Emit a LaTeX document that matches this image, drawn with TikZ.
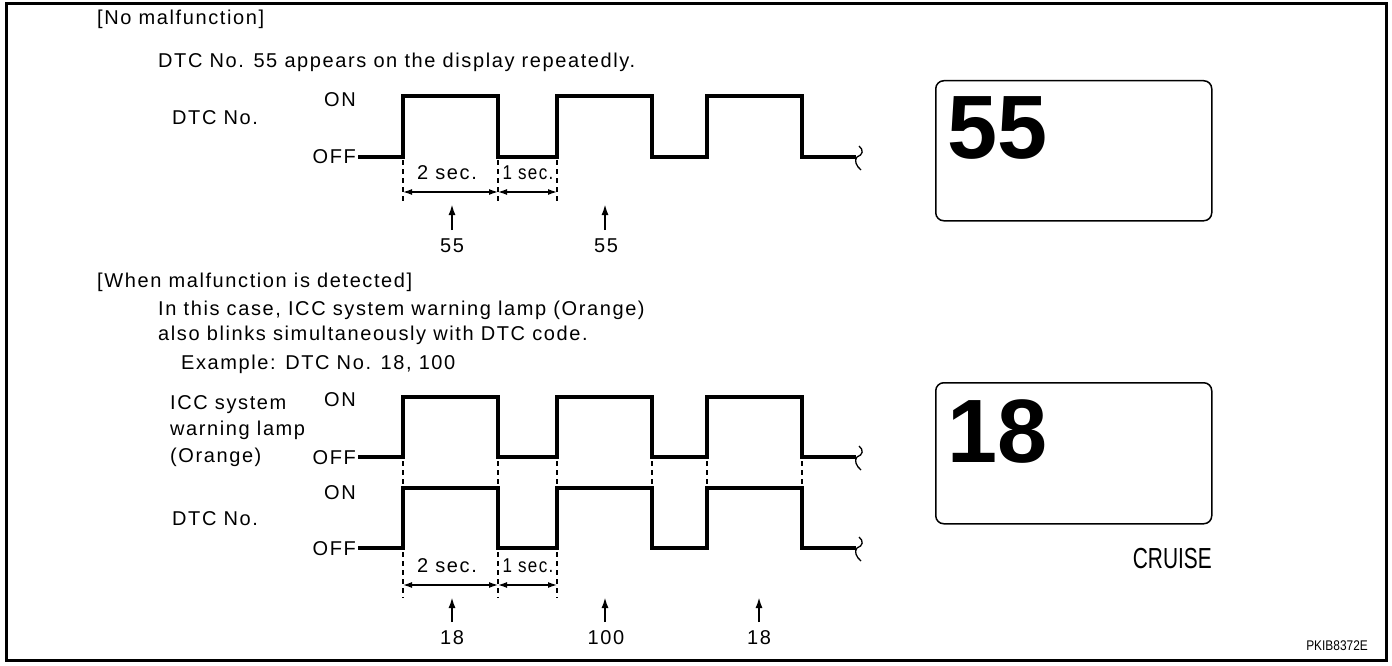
\documentclass[tikz,border=0pt]{standalone}
\usepackage{fontspec}
\setmainfont{Liberation Sans}
\newfontfamily\lblfont[LetterSpace=8]{Liberation Sans}
\usetikzlibrary{arrows.meta}
\begin{document}
\begin{tikzpicture}[x=1pt,y=-1pt,
  txt/.style={inner sep=0pt,anchor=base west,font=\lblfont\fontsize{20}{22}\selectfont},
  txtc/.style={inner sep=0pt,anchor=base,font=\lblfont\fontsize{20}{22}\selectfont},
  txte/.style={inner sep=0pt,anchor=base east,font=\lblfont\fontsize{20}{22}\selectfont},
  wave/.style={line width=3.5pt,line join=miter},
  guide/.style={line width=1.2pt,dash pattern=on 5pt off 4pt},
  dim/.style={line width=1.3pt,{Latex[length=9pt,width=6pt]}-{Latex[length=9pt,width=6pt]}},
  uparrow/.style={line width=2pt,-{Latex[length=11pt,width=7pt]}},
  squig/.style={line width=1.3pt},
  display/.style={draw,line width=1.5pt,rounded corners=8pt}]
\useasboundingbox (0,0) rectangle (1392,666);
\draw[line width=3pt] (6,4) rectangle (1386,660);

% ---------- section 1 ----------
\node[txt] (h1) at (97,25) {[No malfunction]};
\node[txt] (d1) at (158,68) {DTC No. 55 appears on the display repeatedly.};
\node[txt] (lab1) at (172,125) {DTC No.};
\node[txt] (on1) at (324,107) {ON};
\node[txte] (off1) at (356,164) {OFF};

\draw[wave] (358,157) -- (403,157) -- (403,96) -- (498,96) -- (498,157) -- (557,157) -- (557,96) -- (652,96) -- (652,157) -- (707,157) -- (707,96) -- (802,96) -- (802,157) -- (856,157);
\draw[squig] (859,146) .. controls (864,150) and (863,155) .. (857,157) .. controls (854,160) and (856,166) .. (861,170);

\foreach \x/\n in {403/a,498/b,557/c} {
  \coordinate (g1\n t) at (\x,160);
  \coordinate (g1\n b) at (\x,202);
  \draw[guide] (g1\n t) -- (g1\n b);
}
\node[txtc] (s2a) at (447,179) {2 sec.};
\node[txtc] (s1a) at (528,179) {\scalebox{0.85}[1]{1 sec.}};
\draw[dim] (403,192) -- (498,192);
\draw[dim] (498,192) -- (557,192);

\node[txtc] (n55a) at (452,252) {55};
\node[txtc] (n55b) at (606,252) {55};
\coordinate (u1a) at (452,230);
\coordinate (u1b) at (605,230);
\draw[uparrow] (u1a) -- (452,204);
\draw[uparrow] (u1b) -- (605,204);

\node[display,minimum width=276pt,minimum height=140pt,anchor=north west] (disp1) at (935,80) {};
\node[inner sep=0pt,anchor=base west,font=\fontsize{90}{90}\selectfont\bfseries] (big55) at (947,158) {55};

% ---------- section 2 ----------
\node[txt] (h2) at (97,287) {[When malfunction is detected]};
\node[txt] (t1) at (158,315) {In this case, ICC system warning lamp (Orange)};
\node[txt] (t2) at (158,340) {also blinks simultaneously with DTC code.};
\node[txt] (t3) at (181,369) {Example: DTC No. 18, 100};

\node[txt] (l1) at (170,409) {ICC system};
\node[txt] (l2) at (170,435) {warning lamp};
\node[txt] (l3) at (170,462) {(Orange)};
\node[txt] (on2) at (324,406) {ON};
\node[txte] (off2) at (356,464) {OFF};

\draw[wave] (358,457) -- (403,457) -- (403,397) -- (498,397) -- (498,457) -- (557,457) -- (557,397) -- (652,397) -- (652,457) -- (707,457) -- (707,397) -- (802,397) -- (802,457) -- (856,457);
\draw[squig] (859,446) .. controls (864,450) and (863,455) .. (857,457) .. controls (854,460) and (856,466) .. (861,470);

\foreach \x/\n in {403/a,498/b,557/c,652/d,707/e,802/f} {
  \coordinate (g2\n t) at (\x,461);
  \coordinate (g2\n b) at (\x,486);
  \draw[guide] (g2\n t) -- (g2\n b);
}

\node[txt] (on3) at (324,499) {ON};
\node[txt] (lab3) at (172,525) {DTC No.};
\node[txte] (off3) at (356,555) {OFF};

\draw[wave] (358,548) -- (403,548) -- (403,488) -- (498,488) -- (498,548) -- (557,548) -- (557,488) -- (652,488) -- (652,548) -- (707,548) -- (707,488) -- (802,488) -- (802,548) -- (856,548);
\draw[squig] (859,537) .. controls (864,541) and (863,546) .. (857,548) .. controls (854,551) and (856,557) .. (861,561);

\foreach \x/\n in {403/a,498/b,557/c} {
  \coordinate (g3\n t) at (\x,552);
  \coordinate (g3\n b) at (\x,598);
  \draw[guide] (g3\n t) -- (g3\n b);
}
\node[txtc] (s2b) at (447,572) {2 sec.};
\node[txtc] (s1b) at (528,572) {\scalebox{0.85}[1]{1 sec.}};
\draw[dim] (403,585) -- (498,585);
\draw[dim] (498,585) -- (557,585);

\node[txtc] (n18a) at (452,644) {18};
\node[txtc] (n100) at (606,644) {100};
\node[txtc] (n18b) at (759,644) {18};
\draw[uparrow] (452,622) -- (452,597);
\draw[uparrow] (605,622) -- (605,597);
\draw[uparrow] (759,622) -- (759,597);

\node[display,minimum width=276pt,minimum height=141pt,anchor=north west] (disp2) at (935,382) {};
\node[inner sep=0pt,anchor=base west,font=\fontsize{90}{90}\selectfont\bfseries] (big18) at (947,462) {18};
\node[inner sep=0pt,anchor=base east,font=\fontsize{29}{30}\selectfont] (cruise) at (1212,568) {\scalebox{0.72}[1]{CRUISE}};
\node[inner sep=0pt,anchor=base east,font=\fontsize{14}{16}\selectfont] (code) at (1368,650) {\scalebox{0.85}[1]{PKIB8372E}};
\end{tikzpicture}
\end{document}
